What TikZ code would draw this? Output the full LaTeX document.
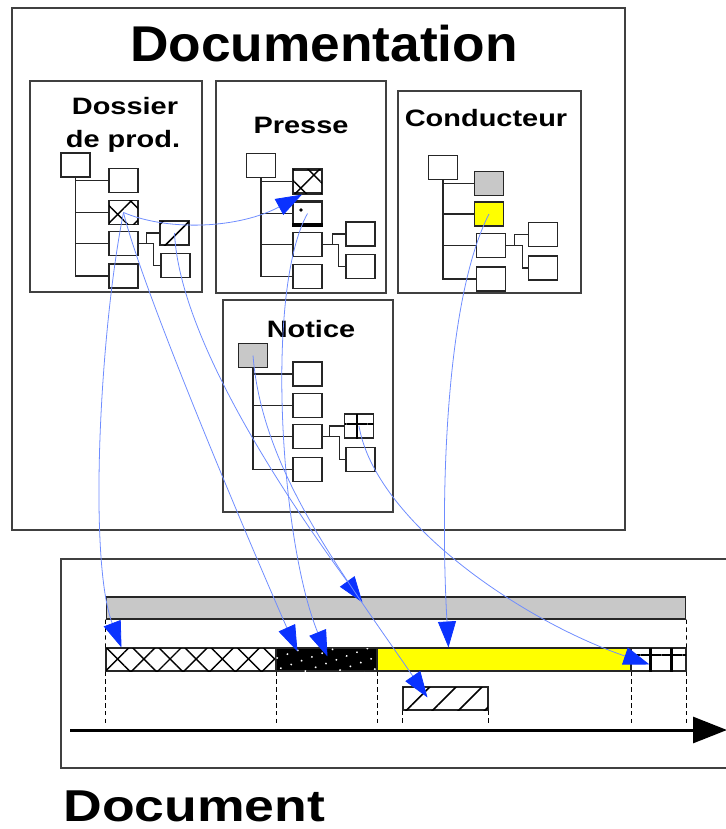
\documentclass[tikz,border=0pt]{standalone}
\usepackage{fontspec}
\setmainfont{Liberation Sans}
\usepackage{graphicx}
\usetikzlibrary{arrows.meta}
\usetikzlibrary{patterns.meta}

\definecolor{linkblue}{RGB}{110,140,255}
\definecolor{tipblue}{RGB}{10,50,255}
\definecolor{bargray}{RGB}{200,200,200}
\definecolor{segyellow}{RGB}{255,255,0}

\newcommand{\stretchtitle}[1]{\scalebox{1.22}[1]{#1}}

\tikzset{
	frame/.style={draw=black!75, line width=0.6pt},
	leaf/.style={draw=black!85, line width=0.7pt, fill=white, minimum width=0.58cm, minimum height=0.48cm, inner sep=0pt},
	branch/.style={draw=black!85, line width=0.7pt},
	title/.style={font=\fontsize{13.5}{16}\selectfont\bfseries, inner sep=0pt, anchor=base},
	seg/.style={draw=black!85, line width=0.6pt, minimum height=0.46cm, inner sep=0pt},
	crossfill/.style={fill=white, postaction={pattern={Hatch[angle=45, distance=0.37cm, line width=0.8pt]}}},
	hatchfill/.style={fill=white, postaction={pattern={Lines[angle=45, distance=0.37cm, line width=0.9pt]}}},
	gridfill/.style={fill=white, postaction={pattern={Hatch[angle=0, distance=0.42cm, yshift=0.12cm, line width=1.6pt]}}},
	dotfill/.style={fill=black, postaction={pattern={Dots[angle=20, distance=0.22cm, radius=0.6pt]}, pattern color=white}},
	guide/.style={draw=black, line width=0.5pt, dash pattern=on 2.5pt off 2pt},
	link/.style={draw=linkblue, line width=0.45pt, -{Triangle[length=0.52cm, width=0.36cm, color=tipblue]}},
	timeline/.style={draw=black, line width=1.7pt, -{Triangle[length=0.68cm, width=0.52cm]}}
}

\begin{document}
\begin{tikzpicture}[x=0.02cm, y=-0.02cm]
	\useasboundingbox (0,0) rectangle (726,829);
	% documentation side
	\draw[frame] (12,8) rectangle (625,530);
	\node[font=\fontsize{28.6}{32}\selectfont\bfseries, inner sep=0pt, anchor=base] (doc-title) at (324,61) {\scalebox{1.06}[1]{Documentation}};
	\draw[frame] (30,81) rectangle (202,292);
	\draw[frame] (216,81) rectangle (386,293);
	\draw[frame] (398,91) rectangle (581,293);
	\draw[frame] (223,300) rectangle (393,512);
	\node[title] (dos-title) at (125,114) {\stretchtitle{Dossier}};
	\node[title] (dos-title2) at (123,147) {\stretchtitle{de prod.}};
	\node[title] (pre-title) at (301,133) {\stretchtitle{Presse}};
	\node[title] (con-title) at (486,126) {\stretchtitle{Conducteur}};
	\node[title] (not-title) at (311,337) {\stretchtitle{Notice}};

	% dossier de prod.
	\node[leaf] (dos-root) at (75.5,165) {};
	\node[leaf] (dos-1) at (123.5,180.5) {};
	\node[leaf, crossfill] (dos-2) at (123.5,212.5) {};
	\node[leaf] (dos-3) at (123.5,243.5) {};
	\node[leaf] (dos-4) at (123.5,276) {};
	\node[leaf, hatchfill] (dos-3a) at (174.5,233) {};
	\node[leaf] (dos-3b) at (175.5,265.5) {};
	\draw[branch] (dos-root.south) |- (dos-1.west);
	\draw[branch] (dos-root.south) |- (dos-2.west);
	\draw[branch] (dos-root.south) |- (dos-3.west);
	\draw[branch] (dos-root.south) |- (dos-4.west);
	\draw[branch] (dos-3.east) -- ++(8,0) |- (dos-3a.west);
	\draw[branch] (dos-3.east) -- ++(15,0) |- (dos-3b.west);

	% presse
	\node[leaf] (pre-root) at (261,165.5) {};
	\node[leaf, crossfill, line width=1.3pt] (pre-1) at (307.5,181.5) {};
	\node[leaf, line width=1.3pt] (pre-2) at (307.5,213.5) {};
	\node[leaf] (pre-3) at (307.5,244.5) {};
	\node[leaf] (pre-4) at (307.5,276.5) {};
	\node[leaf] (pre-3a) at (360.5,234) {};
	\node[leaf] (pre-3b) at (360.5,266.5) {};
	\fill (pre-2.south west) rectangle ([yshift=0.08cm]pre-2.south east);
	\fill ([shift={(-0.13cm,0.07cm)}]pre-2.center) circle (1.1pt);
	\draw[branch] (pre-root.south) |- (pre-1.west);
	\draw[branch] (pre-root.south) |- (pre-2.west);
	\draw[branch] (pre-root.south) |- (pre-3.west);
	\draw[branch] (pre-root.south) |- (pre-4.west);
	\draw[branch] (pre-3.east) -- ++(10,0) |- (pre-3a.west);
	\draw[branch] (pre-3.east) -- ++(16,0) |- (pre-3b.west);

	% conducteur
	\node[leaf] (con-root) at (443,167.5) {};
	\node[leaf, fill=bargray] (con-1) at (489,183.5) {};
	\node[leaf, fill=segyellow] (con-2) at (489,214) {};
	\node[leaf] (con-3) at (491,245.5) {};
	\node[leaf] (con-4) at (491,279) {};
	\node[leaf] (con-3a) at (543,234.5) {};
	\node[leaf] (con-3b) at (543,268) {};
	\draw[branch] (con-root.south) |- (con-1.west);
	\draw[branch] (con-root.south) |- (con-2.west);
	\draw[branch] (con-root.south) |- (con-3.west);
	\draw[branch] (con-root.south) |- (con-4.west);
	\draw[branch] (con-3.east) -- ++(8,0) |- (con-3a.west);
	\draw[branch] (con-3.east) -- ++(16,0) |- (con-3b.west);

	% notice
	\node[leaf, fill=bargray] (not-root) at (253,355.5) {};
	\node[leaf] (not-1) at (307.5,374) {};
	\node[leaf] (not-2) at (307.5,405.5) {};
	\node[leaf] (not-3) at (307.5,436.5) {};
	\node[leaf] (not-4) at (307.5,469.5) {};
	\node[leaf, gridfill] (not-3a) at (359,426) {};
	\node[leaf] (not-3b) at (360.5,459.5) {};
	\draw[branch] (not-root.south) |- (not-1.west);
	\draw[branch] (not-root.south) |- (not-2.west);
	\draw[branch] (not-root.south) |- (not-3.west);
	\draw[branch] (not-root.south) |- (not-4.west);
	\draw[branch] (not-3.east) -- ++(7,0) |- (not-3a.west);
	\draw[branch] (not-3.east) -- ++(17,0) |- (not-3b.west);

	% document side
	\draw[frame] (740,559) -- (61,559) -- (61,768) -- (740,768);
	\node[font=\fontsize{25.4}{30}\selectfont\bfseries, inner sep=0pt, anchor=base west] (doc-name) at (63,821) {\scalebox{1.2}[1]{Document}};
	\node[seg, fill=bargray, minimum width=11.6cm, minimum height=0.44cm] (bar) at (396,608) {};
	\node[seg, crossfill, minimum width=3.4cm] (seg-cross) at (191,659.5) {};
	\node[seg, dotfill, minimum width=2.02cm] (seg-dots) at (326.5,659.5) {};
	\node[seg, fill=segyellow, minimum width=5.08cm] (seg-yellow) at (504,659.5) {};
	\node[seg, gridfill, minimum width=1.1cm] (seg-grid) at (658.5,659.5) {};
	\node[seg, hatchfill, minimum width=1.7cm] (seg-hatch) at (445.5,698.5) {};
	\draw[guide] (bar.south west) -- (seg-cross.north west);
	\draw[guide] (bar.south east) -- (seg-grid.north east);
	\draw[guide] (seg-cross.south west) -- ++(0,52);
	\draw[guide] (seg-cross.south east) -- ++(0,51);
	\draw[guide] (seg-dots.south east) -- ++(0,51);
	\draw[guide] (seg-yellow.south east) -- ++(0,51);
	\draw[guide] (seg-grid.south east) -- ++(0,51);
	\draw[guide] (seg-hatch.south west) -- ++(0,12);
	\draw[guide] (seg-hatch.south east) -- ++(0,12);
	\coordinate (time-start) at (70,730);
	\coordinate (time-end) at (727,730);
	\draw[timeline] (time-start) -- (time-end);

	% links
	\draw[link] (dos-2.center) .. controls (170,232) and (240,228) .. ([xshift=0.2cm]pre-1.south west);
	\draw[link] (dos-2.center) .. controls (100,330) and (88,560) .. ([xshift=0.32cm]seg-cross.north west);
	\draw[link] (dos-2.center) .. controls (145,300) and (270,590) .. ([xshift=0.44cm, yshift=-0.08cm]seg-dots.north west);
	\draw[link] (dos-3a.center) .. controls (180,350) and (310,530) .. ([xshift=5.14cm, yshift=-0.12cm]bar.north west);
	\draw[link] (pre-2.center) .. controls (265,290) and (280,540) .. ([xshift=1.04cm, yshift=-0.18cm]seg-dots.north west);
	\draw[link] (not-root.center) .. controls (262,470) and (340,570) .. ([xshift=0.5cm, yshift=-0.22cm]seg-hatch.north west);
	\draw[link] (con-2.center) .. controls (445,300) and (440,500) .. ([xshift=1.44cm]seg-yellow.north west);
	\draw[link] (not-3a.center) .. controls (375,520) and (520,620) .. ([xshift=0.38cm, yshift=-0.34cm]seg-grid.north west);
\end{tikzpicture}
\end{document}
